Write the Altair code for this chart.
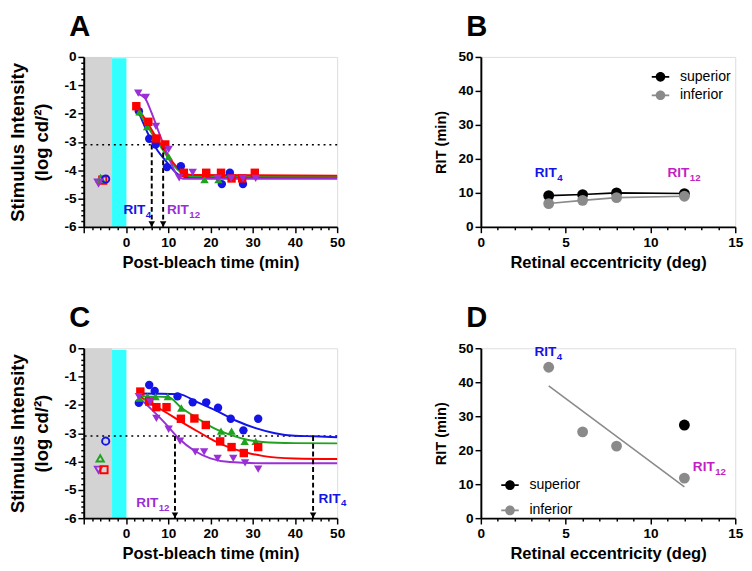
import altair as alt
import pandas as pd

FONT = "Liberation Sans"
BLUE = "#1414e6"
GREEN = "#1fa31f"
RED = "#ff0000"
PURPLE = "#9a2fd6"
MAGENTA = "#c21fc2"
GREY = "#8a8a8a"
BAND_GREY = "#d3d3d3"
CYAN = "#33ffff"

SERIES = ["4", "6", "8", "12"]
SERIES_COLORS = [BLUE, GREEN, RED, PURPLE]
SERIES_SHAPES = ["circle", "triangle-up", "square", "triangle-down"]

# ---------------- Panel A: measured thresholds ----------------
A_X_4 = [3.05, 5.5, 7.0, 9.7, 13.0, 22.7, 24.6, 27.7]
A_Y_4 = [-1.92, -2.89, -3.09, -3.89, -3.86, -4.49, -4.09, -4.49]
A_X_6 = [3.2, 5.0, 6.9, 10.1, 13.5, 18.6, 21.9]
A_Y_6 = [-1.94, -2.46, -2.84, -3.52, -4.11, -4.33, -4.33]
A_X_8 = [2.45, 5.3, 7.2, 9.3, 13.7, 19.0, 22.5, 25.0, 27.5, 30.5]
A_Y_8 = [-1.74, -2.29, -2.88, -3.09, -4.09, -4.09, -4.09, -4.29, -4.29, -4.09]
A_X_12 = [2.9, 4.7, 7.1, 10.1, 12.6, 15.8, 21.7, 24.9, 27.7, 30.7]
A_Y_12 = [-1.28, -1.43, -2.45, -3.26, -4.27, -4.08, -4.29, -4.29, -4.29, -4.29]

# fitted curves
A_CX_4 = [3.0, 5.5, 7.0, 9.7, 12.4, 15.0, 50.0]
A_CY_4 = [-1.95, -2.8, -3.2, -3.72, -4.15, -4.26, -4.26]
A_CX_6 = [3.0, 5.0, 7.0, 9.0, 11.0, 13.0, 15.5, 50.0]
A_CY_6 = [-1.95, -2.42, -2.9, -3.35, -3.78, -4.08, -4.22, -4.23]
A_CX_8 = [2.5, 5.0, 7.0, 9.0, 11.0, 13.0, 15.5, 50.0]
A_CY_8 = [-1.75, -2.3, -2.8, -3.25, -3.7, -4.02, -4.17, -4.19]
A_CX_12 = [2.8, 4.5, 6.0, 8.0, 10.0, 12.0, 13.5, 50.0]
A_CY_12 = [-1.3, -1.45, -1.95, -2.75, -3.5, -4.15, -4.3, -4.3]

# pre-bleach (open symbols)
A_PRE_X = [-5.5, -6.0, -4.8, -6.5]
A_PRE_Y = [-4.35, -4.3, -4.31, -4.44]
A_PRE_S = ["8", "6", "4", "12"]

A_ARROWS = [6.1, 8.8]

# ---------------- Panel C ----------------
C_X_4 = [3.05, 5.5, 6.8, 12.2, 15.8, 19.0, 21.8, 24.8, 27.8, 31.3]
C_Y_4 = [-1.93, -1.30, -1.51, -1.70, -1.91, -1.91, -2.10, -2.49, -2.90, -2.49]
C_X_6 = [3.2, 5.1, 7.0, 9.9, 13.1, 22.5, 25.0, 28.1, 30.7]
C_Y_6 = [-1.76, -1.71, -1.71, -1.71, -2.11, -2.93, -2.93, -3.29, -3.29]
C_X_8 = [3.4, 5.5, 7.2, 9.6, 13.0, 16.2, 18.9, 22.3, 25.0, 27.9, 31.3]
C_Y_8 = [-1.53, -1.88, -2.08, -2.08, -2.49, -2.48, -2.71, -3.29, -3.49, -3.70, -3.49]
C_X_12 = [3.05, 5.7, 7.2, 10.1, 12.8, 16.4, 18.5, 21.7, 25.4, 28.2, 31.3]
C_Y_12 = [-1.71, -1.89, -2.48, -2.86, -3.28, -3.66, -3.66, -3.89, -3.89, -4.05, -4.27]

C_CX_4 = [2.8, 12.4, 17.0, 21.6, 26.1, 30.7, 35.3, 39.9, 44.5, 50.0]
C_CY_4 = [-1.6, -1.62, -1.91, -2.22, -2.56, -2.82, -3.0, -3.09, -3.11, -3.14]
C_CX_6 = [3.0, 10.0, 13.1, 17.0, 20.8, 24.6, 28.4, 32.3, 40.0, 50.0]
C_CY_6 = [-1.7, -1.72, -2.1, -2.48, -2.82, -3.05, -3.22, -3.31, -3.35, -3.36]
C_CX_8 = [2.8, 5.5, 9.3, 13.1, 17.0, 20.8, 24.6, 28.4, 32.3, 39.9, 50.0]
C_CY_8 = [-1.65, -1.91, -2.25, -2.6, -2.94, -3.26, -3.51, -3.68, -3.8, -3.89, -3.91]
C_CX_12 = [2.8, 5.5, 9.3, 12.4, 16.2, 20.0, 24.6, 32.3, 50.0]
C_CY_12 = [-1.71, -2.08, -2.65, -3.17, -3.62, -3.89, -4.02, -4.06, -4.06]

C_PRE_X = [-4.8, -6.1, -6.5, -5.2]
C_PRE_Y = [-3.28, -3.89, -4.29, -4.29]
C_PRE_S = ["4", "6", "12", "8"]

C_ARROWS = [11.6, 44.3]

CRITERION = -3.1

# ---------------- Panels B and D ----------------
GROUPS = ["superior", "inferior"]
GROUP_COLORS = ["#000000", GREY]
ECC = [4, 6, 8, 12]
B_SUP = [9.2, 9.5, 10.0, 9.8]
B_INF = [6.85, 7.8, 8.6, 9.0]
D_SUP_X = [12]
D_SUP = [27.4]
D_INF = [44.4, 25.4, 21.2, 11.8]
D_FIT_X = [4, 12]
D_FIT_Y = [38.9, 9.2]

# labels: (x, baseline y, text, subscript, colour)
A_LABELS = [(-0.6, -5.54, "RIT", "4", BLUE), (9.7, -5.54, "RIT", "12", PURPLE)]
C_LABELS = [(2.45, -5.62, "RIT", "12", PURPLE), (45.6, -5.45, "RIT", "4", BLUE)]
B_LABELS = [(3.18, 14.7, "RIT", "4", BLUE), (11.0, 14.7, "RIT", "12", MAGENTA)]
D_LABELS = [(3.16, 47.8, "RIT", "4", BLUE), (12.5, 13.9, "RIT", "12", MAGENTA)]

BANDS = [(-10, -3.3, 0, BAND_GREY), (-3.3, 0.1, -0.05, CYAN)]

# ---------------- axes ----------------
AXIS_COMMON = dict(
    domainColor="black", domainWidth=2, tickColor="black", tickWidth=1.5,
    labelFont=FONT, labelFontSize=14, labelFontWeight="bold", labelColor="black",
    titleFont=FONT, titleFontWeight="bold", titleColor="black", grid=False,
    labelOverlap=False, labelFlush=False, labelBound=False, zindex=1,
)

time_axis = alt.Axis(
    values=list(range(-10, 51, 2)),
    labelExpr="(datum.value % 10 == 0 && datum.value >= 0) ? ('' + datum.value) : ''",
    tickSize={"condition": {"test": "datum.value % 10 == 0", "value": 6}, "value": 3},
    labelPadding=3, titleFontSize=17, titlePadding=6, **AXIS_COMMON,
)
int_axis = alt.Axis(
    values=[-6, -5, -4, -3, -2, -1, 0], tickSize=6,
    labelExpr="'' + datum.value",
    labelPadding=2, titleFontSize=19, titleLineHeight=25, titlePadding=13, **AXIS_COMMON,
)
INT_MINOR = [round(-6 + 0.2 * i, 1) for i in range(31) if i % 5 != 0]
int_minor_axis = alt.Axis(
    values=INT_MINOR, tickSize=3, labels=False, domain=False, title=None, orient="left",
    tickColor="black", tickWidth=1.5, grid=False, zindex=1,
)
ecc_axis = alt.Axis(
    values=list(range(0, 16)),
    labelExpr="datum.value % 5 == 0 ? ('' + datum.value) : ''",
    tickSize={"condition": {"test": "datum.value % 5 == 0", "value": 6}, "value": 3},
    labelPadding=3, titleFontSize=17, titlePadding=6, **AXIS_COMMON,
)
rit_axis = alt.Axis(
    values=[0, 10, 20, 30, 40, 50], tickSize=6,
    labelPadding=2, titleFontSize=15, titlePadding=10, **AXIS_COMMON,
)

PW, PH = 262, 175


def letter_title(t):
    return alt.TitleParams(text=t, anchor="start", frame="group", fontSize=30, font=FONT,
                           fontWeight="bold", color="black", dx=-15, offset=-15,
                           baseline="alphabetic")


def series_df(xs, ys):
    rows = []
    for s, (x, y) in zip(SERIES, zip(xs, ys)):
        for xi, yi in zip(x, y):
            rows.append({"x": xi, "y": yi, "s": s})
    return pd.DataFrame(rows)


def label_layers(labels, X, Y, size=14):
    out = []
    for a, b, t, s, c in labels:
        df = pd.DataFrame({"x": [a], "y": [b], "t": [t], "sub": [s]})
        out.append(alt.Chart(df).mark_text(align="left", baseline="alphabetic", font=FONT,
                                           fontSize=size, fontWeight="bold", color=c).encode(
            x=X, y=Y, text="t:N"))
        out.append(alt.Chart(df).mark_text(align="left", baseline="alphabetic", font=FONT,
                                           fontSize=10, fontWeight="bold", color=c, dx=23, dy=4).encode(
            x=X, y=Y, text="sub:N"))
    return out


def time_panel(letter, pts, curves, pre, arrows, labels):
    xs = alt.Scale(domain=[-10, 50], nice=False, zero=False)
    ys = alt.Scale(domain=[-6, 0], nice=False, zero=False)
    X = alt.X("x:Q", scale=xs, axis=time_axis, title="Post-bleach time (min)")
    Ymain = alt.Y("y:Q", scale=ys, axis=int_axis, title=["Stimulus Intensity", "(log cd/\u00b2)"])
    Y = alt.Y("y:Q", scale=ys, axis=None)
    cscale = alt.Scale(domain=SERIES, range=SERIES_COLORS)
    sscale = alt.Scale(domain=SERIES, range=SERIES_SHAPES)

    layers = []
    for x1, x2, ytop, col in BANDS:
        bdf = pd.DataFrame({"x": [x1], "x2": [x2], "y": [ytop], "y2": [-6]})
        layers.append(alt.Chart(bdf).mark_rect(color=col).encode(
            x=X, x2="x2:Q", y=Ymain if not layers else Y, y2="y2:Q"))
    minor = alt.Chart(pd.DataFrame({"y": [-6, 0]})).mark_point(opacity=0).encode(
        y=alt.Y("y:Q", scale=ys, axis=int_minor_axis))
    l_crit = alt.Chart(pd.DataFrame({"y": [CRITERION]})).mark_rule(
        color="black", strokeDash=[2, 4], strokeWidth=1.6).encode(y=Y)
    l_curves = alt.Chart(curves).mark_line(interpolate="monotone", strokeWidth=2).encode(
        x=X, y=Y, color=alt.Color("s:N", scale=cscale, legend=None))
    adf = pd.DataFrame({"x": arrows, "y": [CRITERION] * len(arrows), "y2": [-6] * len(arrows)})
    l_arrows = alt.Chart(adf).mark_rule(color="black", strokeDash=[5, 3], strokeWidth=2).encode(
        x=X, y=Y, y2="y2:Q")
    l_heads = alt.Chart(adf).mark_point(shape="triangle-down", filled=True, size=45, color="black",
                                        opacity=1, yOffset=-3).encode(
        x=X, y=alt.Y("y2:Q", scale=ys, axis=None))
    l_pts = alt.Chart(pts).mark_point(filled=True, size=75, opacity=1).encode(
        x=X, y=Y, color=alt.Color("s:N", scale=cscale, legend=None),
        shape=alt.Shape("s:N", scale=sscale, legend=None))
    l_pre = alt.Chart(pre).mark_point(filled=False, size=55, strokeWidth=2, opacity=1).encode(
        x=X, y=Y, color=alt.Color("s:N", scale=cscale, legend=None),
        shape=alt.Shape("s:N", scale=sscale, legend=None))
    layers += [minor, l_crit, l_curves, l_arrows, l_heads, l_pts, l_pre] + label_layers(labels, X, Y)
    return alt.layer(*layers).resolve_axis(y="independent").properties(
        width=PW - 1, height=PH, title=letter_title(letter))


LEGEND_PATH = ("M-1,-0.1L1,-0.1L1,0.1L-1,0.1Z"
               "M0.55,0A0.55,0.55,0,1,1,-0.55,0A0.55,0.55,0,1,1,0.55,0Z")


def rit_panel(letter, lines_df, pts_df, labels, lx, ly, rowpad):
    X = alt.X("x:Q", scale=alt.Scale(domain=[0, 15], nice=False, zero=False), axis=ecc_axis,
              title="Retinal eccentricity (deg)")
    Y = alt.Y("y:Q", scale=alt.Scale(domain=[0, 50], nice=False, zero=False), axis=rit_axis,
              title="RIT (min)")
    gscale = alt.Scale(domain=GROUPS, range=GROUP_COLORS)
    legend = alt.Legend(title=None, orient="none", legendX=lx, legendY=ly, symbolType=LEGEND_PATH,
                        symbolSize=324, symbolStrokeWidth=0, symbolOpacity=1, labelFont=FONT,
                        labelFontSize=14.5, labelColor="black", labelOffset=11, rowPadding=rowpad)
    layers = []
    for g, col in zip(GROUPS, GROUP_COLORS):
        if (lines_df["s"] == g).any():
            layers.append(alt.Chart(lines_df).transform_filter(alt.datum.s == g).mark_line(
                strokeWidth=1.6, color=col).encode(x=X, y=Y))
    l_pts = alt.Chart(pts_df).mark_point(filled=True, size=125, opacity=1).encode(
        x=X, y=Y, color=alt.Color("s:N", scale=gscale, legend=legend))
    layers += [l_pts] + label_layers(labels, X, Y)
    return alt.layer(*layers).properties(width=PW, height=PH, title=letter_title(letter))


# ---------------- build data frames ----------------
a_pts = series_df([A_X_4, A_X_6, A_X_8, A_X_12], [A_Y_4, A_Y_6, A_Y_8, A_Y_12])
a_cur = series_df([A_CX_4, A_CX_6, A_CX_8, A_CX_12], [A_CY_4, A_CY_6, A_CY_8, A_CY_12])
a_pre = pd.DataFrame({"x": A_PRE_X, "y": A_PRE_Y, "s": A_PRE_S})
c_pts = series_df([C_X_4, C_X_6, C_X_8, C_X_12], [C_Y_4, C_Y_6, C_Y_8, C_Y_12])
c_cur = series_df([C_CX_4, C_CX_6, C_CX_8, C_CX_12], [C_CY_4, C_CY_6, C_CY_8, C_CY_12])
c_pre = pd.DataFrame({"x": C_PRE_X, "y": C_PRE_Y, "s": C_PRE_S})

b_pts = pd.DataFrame({"x": ECC + ECC, "y": B_SUP + B_INF, "s": ["superior"] * 4 + ["inferior"] * 4})
b_lines = b_pts.copy()
d_pts = pd.DataFrame({"x": D_SUP_X + ECC, "y": D_SUP + D_INF, "s": ["superior"] + ["inferior"] * 4})
d_lines = pd.DataFrame({"x": D_FIT_X, "y": D_FIT_Y, "s": ["inferior"] * 2})

pA = time_panel("A", a_pts, a_cur, a_pre, A_ARROWS, A_LABELS)
pC = time_panel("C", c_pts, c_cur, c_pre, C_ARROWS, C_LABELS)
pB = rit_panel("B", b_lines, b_pts, B_LABELS, 176, 11.5, 3)
pD = rit_panel("D", d_lines, d_pts, D_LABELS, 21, 132, 10)

RES = dict(color="independent", shape="independent")

left = alt.vconcat(pA, pC, spacing=32).resolve_scale(**RES).resolve_legend(color="independent")
right = alt.vconcat(pB, pD, spacing=32).resolve_scale(**RES).resolve_legend(color="independent")
chart = alt.hconcat(left, right, spacing=88).resolve_scale(**RES).resolve_legend(
    color="independent").properties(padding={"left": 0, "top": -5, "right": 0, "bottom": 0}
).configure_view(stroke=None).configure(font=FONT)

chart.save("out.html", embed_options={"renderer": "svg", "actions": False})
